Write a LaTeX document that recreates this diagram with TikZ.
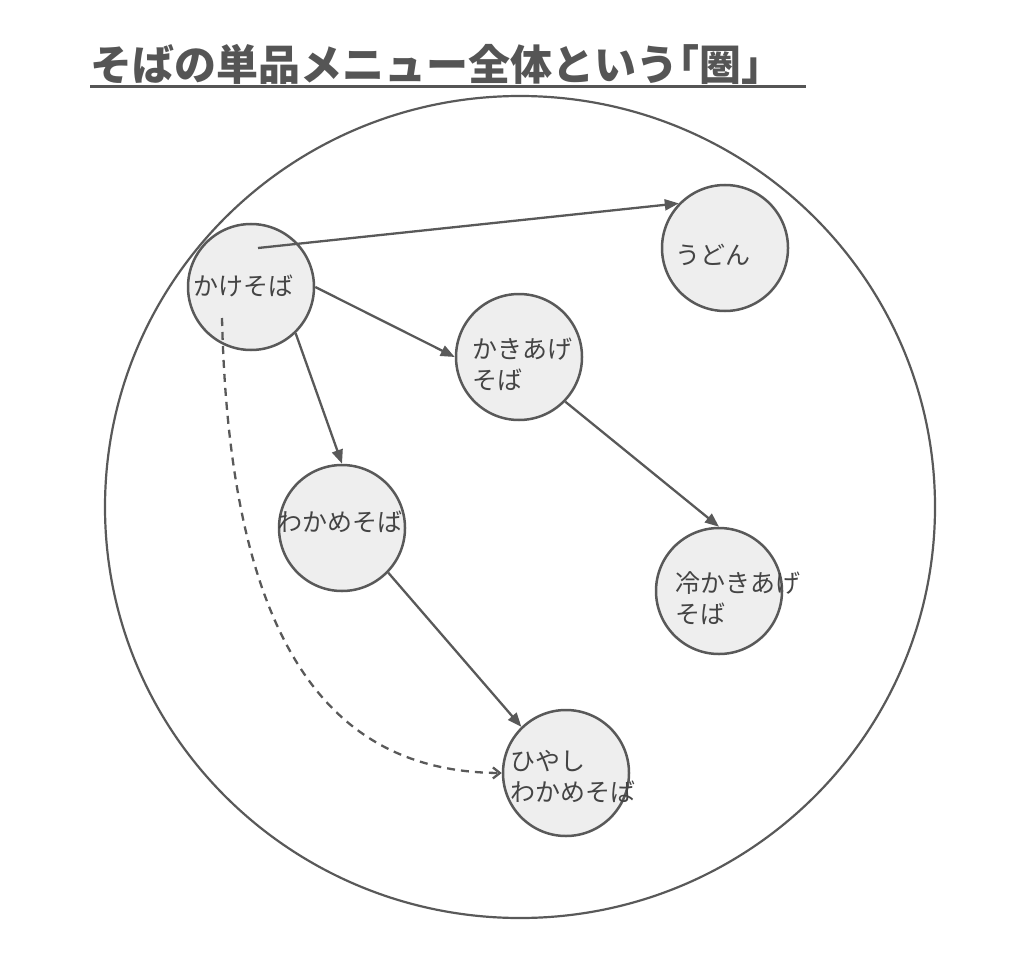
\documentclass[tikz,border=0pt]{standalone}
\usepackage{fontspec}
\setmainfont{Noto Sans CJK JP}
\usetikzlibrary{arrows.meta,shapes.geometric}
\definecolor{cstroke}{HTML}{595959}
\definecolor{cfill}{HTML}{EEEEEE}
\definecolor{ctext}{HTML}{444444}
\definecolor{ctitle}{HTML}{555555}
\newcommand{\hbr}[1]{{\addfontfeatures{RawFeature=+halt}#1}}
\tikzset{
  bubble/.style={circle, draw=cstroke, fill=cfill, line width=2.5pt, minimum size=126pt, inner sep=0pt},
  lbl/.style={anchor=west, inner sep=0pt, align=left, font=\fontsize{25}{31}\selectfont, text=ctext},
  edge/.style={draw=cstroke, line width=2.3pt, -{Triangle[length=14pt,width=11pt]}},
  dedge/.style={draw=cstroke, line width=2.3pt, dash pattern=on 8pt off 6pt, -{Straight Barb[length=7pt,width=11pt]}},
}
\begin{document}
\begin{tikzpicture}[x=1pt,y=-1pt]
\useasboundingbox (0,0) rectangle (1024,968);
% title
\node[anchor=base west, inner sep=0pt, font=\fontsize{42}{42}\selectfont\bfseries, text=ctitle] (title) at (90,81) {そばの単品メニュー全体という\hbr{「}圏\hbr{」}};
\coordinate (ulend) at (806,87);
\draw[line width=3pt, ctitle] (title.base west |- ulend) -- (ulend);
% nodes
\node[bubble] (kake) at (251,287) {};
\node[bubble] (udon) at (725,248) {};
\node[bubble] (kaki) at (519,357) {};
\node[bubble] (wakame) at (342,528) {};
\node[bubble] (hkaki) at (719,591) {};
\node[bubble] (hwakame) at (566,773) {};
% scope circle
\node[ellipse, draw=cstroke, line width=2.2pt, minimum width=830pt, minimum height=822pt, inner sep=0pt] (ken) at (520,507) {};
% edges
\coordinate (s1) at (258,248);
\coordinate (ds) at (222,318);
\draw[edge] (s1) -- (udon.136);
\draw[edge] (kake.east) -- (kaki.west);
\draw[edge] (kake.-46) -- (wakame.north);
\draw[edge] (kaki.-44) -- (hkaki.north);
\draw[edge] (wakame.-44) -- (hwakame.134);
\draw[dedge] (ds) .. controls (230,660) and (340,772) .. (hwakame.west);
% labels
\node[lbl] (kaket) at (193,286) {かけそば};
\node[lbl] (udont) at (675,255) {うどん};
\node[lbl] (kakit) at (472,364) {かきあげ\\そば};
\node[lbl] (wakamet) at (277,522) {わかめそば};
\node[lbl] (hkakit) at (675,598) {冷かきあげ\\そば};
\node[lbl] (hwakamet) at (510,777) {ひやし\\わかめそば};
\end{tikzpicture}
\end{document}
